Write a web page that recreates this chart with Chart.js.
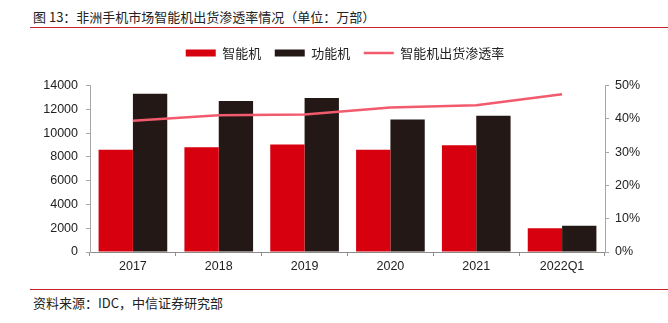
<!DOCTYPE html>
<html>
<head>
<meta charset="utf-8">
<script src="https://cdn.jsdelivr.net/npm/chart.js@4"></script>
<style>
  body { margin: 0; background: #fff; width: 668px; height: 323px; position: relative; overflow: hidden; }
  .cap { position: absolute; left: 33px; font: 13px "Noto Sans CJK SC", sans-serif; color: #222; line-height: 18px; white-space: nowrap; }
  .rule { position: absolute; left: 30px; width: 638px; height: 1px; background: #c8232c; }
  #wrap { position: absolute; left: 0; top: 30px; width: 668px; height: 258px; }
</style>
</head>
<body>
<div class="cap" style="top:8px">图 13：非洲手机市场智能机出货渗透率情况（单位：万部）</div>
<div class="rule" style="top:27px"></div>
<div id="wrap"><canvas id="graph_africa"></canvas></div>
<div class="rule" style="top:289px"></div>
<div class="cap" style="top:294px">资料来源：IDC，中信证券研究部</div>

<script>
// Dados do gráfico

const anos = ["2017", "2018", "2019", "2020", "2021", "2022Q1"];
const smartphones = [8600, 8800, 9030, 8600, 8970, 2000];
const featurephones = [13300, 12700, 12950, 11150, 11450, 2200];
const penetracao = [39.4, 41.1, 41.3, 43.4, 44.1, 47.4];
const ticksEsq = [0, 2000, 4000, 6000, 8000, 10000, 12000, 14000];
const ticksDir = [0, 10, 20, 30, 40, 50];

const fonteNum = { family: "'Liberation Sans', Arial, sans-serif", size: 12.5 };
const corEixo = "#a6a6a6";

// Espaço extra entre a legenda e a área do gráfico
const espacoLegenda = {
  id: "espacoLegenda",
  afterInit(chart) {
    const fitOriginal = chart.legend.fit;
    chart.legend.fit = function () {
      fitOriginal.call(this);
      this.height += 16;
    };
  },
};

const graficoAfrica = document.getElementById("graph_africa");

new Chart(graficoAfrica, {
  type: "bar",
  data: {
    labels: anos,
    datasets: [
      {
        label: "智能机",
        data: smartphones,
        backgroundColor: "#d7000f",
        borderWidth: 0,
        pointStyle: "rect",
        yAxisID: "y1",
        order: 1,
      },
      {
        label: "功能机",
        data: featurephones,
        backgroundColor: "#231815",
        borderWidth: 0,
        pointStyle: "rect",
        yAxisID: "y1",
        order: 1,
      },
      {
        label: "智能机出货渗透率",
        data: penetracao,
        type: "line",
        borderColor: "#f25a6e",
        backgroundColor: "#f25a6e",
        borderWidth: 2.5,
        pointRadius: 0,
        pointStyle: "line",
        tension: 0,
        fill: false,
        yAxisID: "y2",
        order: 0,
      },
    ],
  },
  options: {
    responsive: true,
    maintainAspectRatio: false,
    animation: false,
    layout: { padding: { top: 3, left: 22, right: 0, bottom: 0 } },
    datasets: {
      bar: { categoryPercentage: 0.8, barPercentage: 1 },
    },
    scales: {
      x: {
        grid: {
          offset: true,
          drawOnChartArea: false,
          drawTicks: true,
          tickLength: 4,
          color: "#8c8c8c",
        },
        border: { color: "#8c8c8c" },
        ticks: { color: "#222", font: fonteNum, padding: 3 },
        afterFit: (scale) => { scale.height = 36; },
      },
      y1: {
        position: "left",
        min: 0,
        max: 14000,
        afterBuildTicks: (scale) => { scale.ticks = ticksEsq.map((v) => ({ value: v })); },
        grid: { drawOnChartArea: false, tickLength: 4, color: corEixo },
        border: { color: corEixo },
        ticks: {
          color: "#222",
          font: fonteNum,
          padding: 8,
          callback: (v) => String(v),
        },
        afterFit: (scale) => { scale.width = 68; },
      },
      y2: {
        position: "right",
        min: 0,
        max: 50,
        afterBuildTicks: (scale) => { scale.ticks = ticksDir.map((v) => ({ value: v })); },
        grid: { drawOnChartArea: false, tickLength: 4, color: corEixo },
        border: { color: corEixo },
        ticks: {
          color: "#222",
          font: fonteNum,
          padding: 6,
          callback: (v) => v + "%",
        },
        afterFit: (scale) => { scale.width = 63; },
      },
    },
    plugins: {
      legend: {
        display: true,
        position: "top",
        labels: {
          usePointStyle: true,
          pointStyleWidth: 30,
          boxHeight: 7,
          padding: 13.5,
          color: "#222",
          font: { family: "'Noto Sans CJK SC', sans-serif", size: 13 },
          sort: (a, b) => a.datasetIndex - b.datasetIndex,
        },
      },
      tooltip: { enabled: false },
    },
  },
  plugins: [espacoLegenda],
});
</script>
</body>
</html>
